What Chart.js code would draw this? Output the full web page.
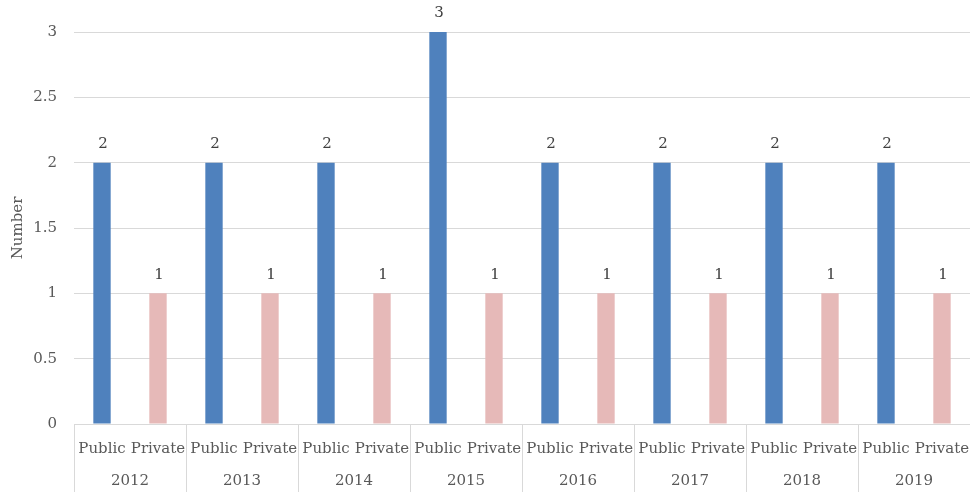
<!DOCTYPE html>
<html>
<head>
<meta charset="utf-8">
<script src="https://cdn.jsdelivr.net/npm/chart.js@4.4.1/dist/chart.umd.min.js"></script>
<style>
  html, body { margin: 0; padding: 0; background: #ffffff; }
  #wrap { width: 970px; height: 492px; position: relative; }
</style>
</head>
<body>
<div id="wrap"><canvas id="c" width="970" height="492"></canvas></div>
<script>
const years = ['2012', '2013', '2014', '2015', '2016', '2017', '2018', '2019'];
const sectors = ['Public', 'Private'];
const publicValues = [2, 2, 2, 3, 2, 2, 2, 2];
const privateValues = [1, 1, 1, 1, 1, 1, 1, 1];
const yTicks = [0, 0.5, 1, 1.5, 2, 2.5, 3];

const FONT = "'DejaVu Serif', serif";
const labels = [];
const pubData = [];
const privData = [];
years.forEach((y, i) => {
  labels.push(sectors[0]); pubData.push(publicValues[i]); privData.push(null);
  labels.push(sectors[1]); pubData.push(null); privData.push(privateValues[i]);
});

const valueLabels = {
  id: 'valueLabels',
  afterDatasetsDraw(chart) {
    const ctx = chart.ctx;
    ctx.save();
    ctx.font = "15px " + FONT;
    ctx.fillStyle = '#404040';
    ctx.textAlign = 'center';
    ctx.textBaseline = 'bottom';
    chart.data.datasets.forEach((ds, di) => {
      const meta = chart.getDatasetMeta(di);
      meta.data.forEach((bar, i) => {
        const v = ds.data[i];
        if (v === null || v === undefined) return;
        ctx.fillText(String(v), bar.x + 1, bar.y - 11);
      });
    });
    ctx.restore();
  }
};

const separators = {
  id: 'separators',
  afterDraw(chart) {
    const xs = chart.scales.x;
    const ctx = chart.ctx;
    ctx.save();
    ctx.strokeStyle = '#d9d9d9';
    ctx.lineWidth = 1;
    for (let g = 0; g <= years.length; g++) {
      const px = Math.round(xs.getPixelForValue(g * 2 - 0.5)) + 0.5;
      ctx.beginPath();
      ctx.moveTo(px, xs.top);
      ctx.lineTo(px, chart.height);
      ctx.stroke();
    }
    ctx.restore();
  }
};

function fixHorizontal(h) {
  return function (scale) {
    scale.height = h;
    scale.paddingLeft = 0;
    scale.paddingRight = 0;
  };
}

new Chart(document.getElementById('c'), {
  type: 'bar',
  data: {
    labels: labels,
    datasets: [
      { label: 'Public', data: pubData, backgroundColor: '#4F81BD', skipNull: true },
      { label: 'Private', data: privData, backgroundColor: '#E6B9B8', skipNull: true }
    ]
  },
  options: {
    responsive: false,
    animation: false,
    devicePixelRatio: 1,
    layout: { padding: { top: 32, right: 0, bottom: 0, left: 3 } },
    datasets: { bar: { categoryPercentage: 1, barPercentage: 0.31 } },
    plugins: { legend: { display: false }, tooltip: { enabled: false } },
    scales: {
      x: {
        type: 'category',
        offset: true,
        afterFit: fixHorizontal(38),
        grid: { drawOnChartArea: false, drawTicks: false },
        border: { color: '#d9d9d9' },
        ticks: { padding: 16, color: '#595959', font: { family: FONT, size: 15 }, maxRotation: 0, autoSkip: false }
      },
      x2: {
        type: 'category',
        labels: years,
        position: 'bottom',
        offset: true,
        afterFit: fixHorizontal(30),
        grid: { display: false },
        border: { display: false },
        ticks: { padding: 2, color: '#595959', font: { family: FONT, size: 15 }, maxRotation: 0, autoSkip: false }
      },
      y: {
        min: 0,
        max: 3,
        afterBuildTicks(scale) { scale.ticks = yTicks.map(v => ({ value: v })); },
        afterFit(scale) { scale.width = 71; scale.paddingTop = 0; scale.paddingBottom = 0; },
        grid: { color: '#d9d9d9', drawTicks: false },
        border: { display: false },
        ticks: { padding: 17, color: '#595959', font: { family: FONT, size: 15 }, callback: (v) => String(v) },
        title: { display: true, text: 'Number', color: '#595959', font: { family: FONT, size: 15 }, padding: { top: 6, bottom: 4 } }
      }
    }
  },
  plugins: [valueLabels, separators]
});
</script>
</body>
</html>
